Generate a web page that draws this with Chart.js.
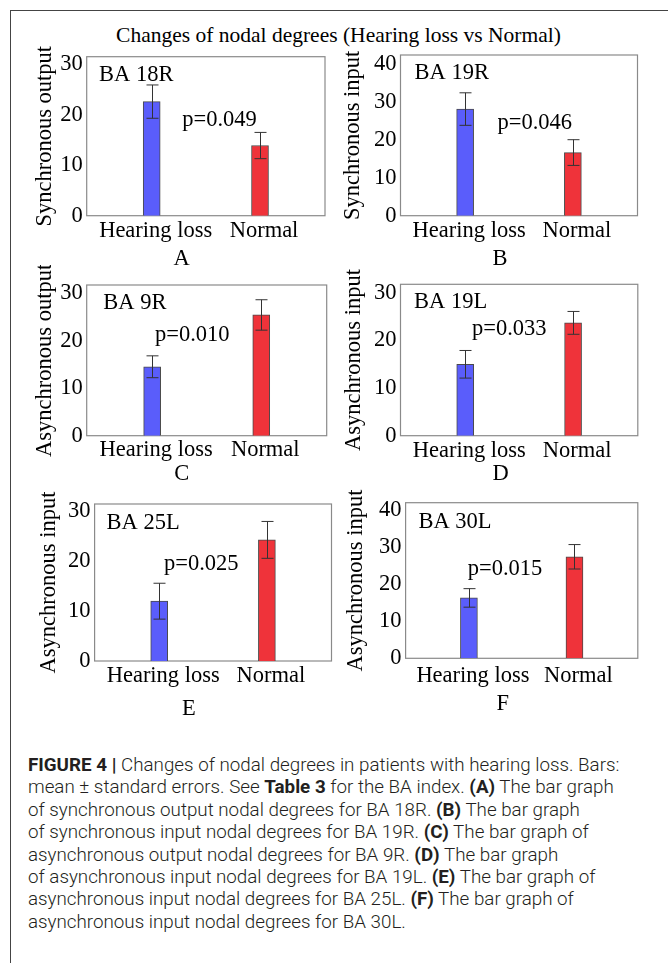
<!DOCTYPE html>
<html>
<head>
<meta charset="utf-8">
<script src="https://cdn.jsdelivr.net/npm/chart.js@4.4.0/dist/chart.umd.min.js"></script>
<style>
  body { margin: 0; width: 668px; height: 963px; background: #fff; position: relative; overflow: hidden; font-family: "Liberation Serif", serif; color: #000; }
  .frame { position: absolute; left: 10px; top: 10px; right: -10px; bottom: -10px; border-top: 1.5px solid #444; border-left: 1.5px solid #444; }
  .fig-title { position: absolute; left: 0; width: 677px; text-align: center; font-size: 21.5px; line-height: 22px; white-space: nowrap; }
  canvas { position: absolute; }
  .letter { position: absolute; font-size: 22.5px; line-height: 22.5px; transform: translateX(-50%); }
  .caption { position: absolute; left: 28px; top: 754px; font-family: Roboto, "Liberation Sans", sans-serif; font-weight: 300; font-size: 18.8px; line-height: 22.4px; color: #231f20; white-space: nowrap; }
  .caption b { font-weight: 700; }
</style>
</head>
<body>
<div class="frame"></div>
<div class="fig-title" style="top:24px">Changes of nodal degrees (Hearing loss vs Normal)</div>
<div id="panels"></div>
<div class="caption">
  <div><b>FIGURE 4 |</b> Changes of nodal degrees in patients with hearing loss. Bars:</div>
  <div>mean ± standard errors. See <b>Table 3</b> for the BA index. <b>(A)</b> The bar graph</div>
  <div>of synchronous output nodal degrees for BA 18R. <b>(B)</b> The bar graph</div>
  <div>of synchronous input nodal degrees for BA 19R. <b>(C)</b> The bar graph of</div>
  <div>asynchronous output nodal degrees for BA 9R. <b>(D)</b> The bar graph</div>
  <div>of asynchronous input nodal degrees for BA 19L. <b>(E)</b> The bar graph of</div>
  <div>asynchronous input nodal degrees for BA 25L. <b>(F)</b> The bar graph of</div>
  <div>asynchronous input nodal degrees for BA 30L.</div>
</div>
<script>
// groups on the x axis
const groups = ['Hearing loss', 'Normal'];
const groupX = [1, 2];

// one entry per panel A..F
const panelLetters = ['A', 'B', 'C', 'D', 'E', 'F'];
const regions = ['BA 18R', 'BA 19R', 'BA 9R', 'BA 19L', 'BA 25L', 'BA 30L'];
const pValues = ['p=0.049', 'p=0.046', 'p=0.010', 'p=0.033', 'p=0.025', 'p=0.015'];
const yTitles = ['Synchronous output', 'Synchronous input', 'Asynchronous output',
                 'Asynchronous input', 'Asynchronous input', 'Asynchronous input'];

// mean nodal degree and standard error
const meanHearingLoss = [22.6, 28.2, 14.5, 15.0, 12.0, 16.3];
const meanNormal      = [13.9, 16.7, 25.4, 23.7, 24.3, 27.4];
const seHearingLoss   = [3.3, 4.3, 2.3, 2.9, 3.6, 2.5];
const seNormal        = [2.6, 3.4, 3.2, 2.4, 3.7, 3.3];

// y axis range and tick labels
const yMax = [31.5, 42.5, 31.7, 31.8, 31.5, 42.0];
const ticks30 = [0, 10, 20, 30];
const ticks40 = [0, 10, 20, 30, 40];
const yTicks = [ticks30, ticks40, ticks30, ticks30, ticks30, ticks40];

const barColors = ['#5a5dfb', '#ef333a'];

// placement of each panel on the page (plot box, y title x, label y, letter, text offsets)
const layout = [
  { box: [86.7, 56.7, 325, 215.7],   titleX: 45,    labelY: 230,   letter: [181.7, 258],   ba: [12.3, 18.3], p: [95.6, 63.3] },
  { box: [400.5, 55, 637.5, 215.7],  titleX: 353,   labelY: 230,   letter: [500, 258],     ba: [14, 18.3],   p: [97, 68.3] },
  { box: [86.7, 285, 326.7, 435.7],  titleX: 45,    labelY: 448.5, letter: [181.7, 473.3], ba: [16.6, 18.3], p: [68.3, 50] },
  { box: [400.5, 284.3, 637.8, 435.7], titleX: 353.6, labelY: 450, letter: [500.6, 473.3], ba: [13.5, 17.4], p: [71.5, 45] },
  { box: [94.6, 504, 331.5, 661],    titleX: 49,    labelY: 675,   letter: [188.8, 708.3], ba: [12, 19.3],   p: [69.4, 60] },
  { box: [405.6, 502.7, 637.8, 658.3], titleX: 355.8, labelY: 674.3, letter: [502.8, 703.3], ba: [12.8, 19.6], p: [62.2, 66.3] }
];

const FONT = '"Liberation Serif", serif';
const FS = 22.5;
Chart.defaults.font.family = FONT;
Chart.defaults.color = '#000';

// plot frame, error bars and the in-plot labels
const panelDecor = {
  id: 'panelDecor',
  beforeDatasetsDraw(chart) {
    const a = chart.chartArea;
    const ctx = chart.ctx;
    ctx.save();
    ctx.strokeStyle = '#8a8a8a';
    ctx.lineWidth = 1.2;
    ctx.strokeRect(a.left, a.top, a.right - a.left, a.bottom - a.top);
    ctx.restore();
  },
  afterDatasetsDraw(chart, args, opts) {
    const ctx = chart.ctx;
    const a = chart.chartArea;
    const x = chart.scales.x, y = chart.scales.y;
    ctx.save();
    ctx.strokeStyle = '#333';
    ctx.lineWidth = 1;
    opts.means.forEach((m, k) => {
      const px = Math.round(x.getPixelForValue(groupX[k])) + 0.5;
      const hi = y.getPixelForValue(m + opts.errs[k]);
      const lo = y.getPixelForValue(m - opts.errs[k]);
      ctx.beginPath();
      ctx.moveTo(px, hi); ctx.lineTo(px, lo);
      ctx.moveTo(px - 6, hi); ctx.lineTo(px + 6, hi);
      ctx.moveTo(px - 6, lo); ctx.lineTo(px + 6, lo);
      ctx.stroke();
    });
    ctx.fillStyle = '#000';
    ctx.font = FS + 'px ' + FONT;
    ctx.textAlign = 'left';
    ctx.textBaseline = 'middle';
    ctx.fillText(opts.region, a.left + opts.baPos[0], a.top + opts.baPos[1]);
    ctx.fillText(opts.pText, a.left + opts.pPos[0], a.top + opts.pPos[1]);
    ctx.restore();
  }
};

const holder = document.getElementById('panels');

layout.forEach((L, i) => {
  const [bl, bt, br, bb] = L.box;
  const left = Math.round(L.titleX - 16);
  const top = Math.round(bt - 20);
  const width = Math.round(br + 6) - left;
  const height = Math.round(L.labelY + 18) - top;
  const yW = bl - left;
  const xH = top + height - bb;

  const cv = document.createElement('canvas');
  cv.width = width; cv.height = height;
  cv.style.left = left + 'px'; cv.style.top = top + 'px';
  cv.style.width = width + 'px'; cv.style.height = height + 'px';
  holder.appendChild(cv);

  const lt = document.createElement('div');
  lt.className = 'letter';
  lt.textContent = panelLetters[i];
  lt.style.left = L.letter[0] + 'px';
  lt.style.top = (L.letter[1] - 11.25) + 'px';
  holder.appendChild(lt);

  const means = [meanHearingLoss[i], meanNormal[i]];
  const errs = [seHearingLoss[i], seNormal[i]];

  new Chart(cv.getContext('2d'), {
    type: 'bar',
    data: {
      datasets: [{
        data: groupX.map((gx, k) => ({ x: gx, y: means[k] })),
        backgroundColor: barColors,
        borderColor: '#4a4a4a',
        borderWidth: 1,
        barThickness: 17
      }]
    },
    options: {
      responsive: false,
      animation: false,
      devicePixelRatio: 1,
      layout: { padding: { top: bt - top, right: left + width - br, left: 0, bottom: 0 } },
      plugins: {
        legend: { display: false },
        tooltip: { enabled: false },
        panelDecor: { means: means, errs: errs, region: regions[i], pText: pValues[i], baPos: L.ba, pPos: L.p }
      },
      scales: {
        x: {
          type: 'linear',
          min: 0.4,
          max: 2.6,
          offset: false,
          afterBuildTicks: s => { s.ticks = groupX.map(v => ({ value: v })); },
          afterFit: s => { s.height = xH; },
          grid: { display: false, drawTicks: false, offset: false },
          border: { display: false },
          ticks: {
            font: { size: FS },
            color: '#000',
            padding: L.labelY - bb - 12,
            labelOffset: 4,
            maxRotation: 0,
            autoSkip: false,
            callback: (v, idx) => groups[idx]
          }
        },
        y: {
          min: 0,
          max: yMax[i],
          afterBuildTicks: s => { s.ticks = yTicks[i].map(v => ({ value: v })); },
          afterFit: s => { s.width = yW; },
          grid: { display: false, drawTicks: false },
          border: { display: false },
          ticks: { font: { size: FS }, color: '#000', padding: 4 },
          title: {
            display: true,
            text: yTitles[i],
            font: { size: FS },
            color: '#000',
            padding: { top: 2.5, bottom: 0 }
          }
        }
      }
    },
    plugins: [panelDecor]
  });
});
</script>
</body>
</html>
